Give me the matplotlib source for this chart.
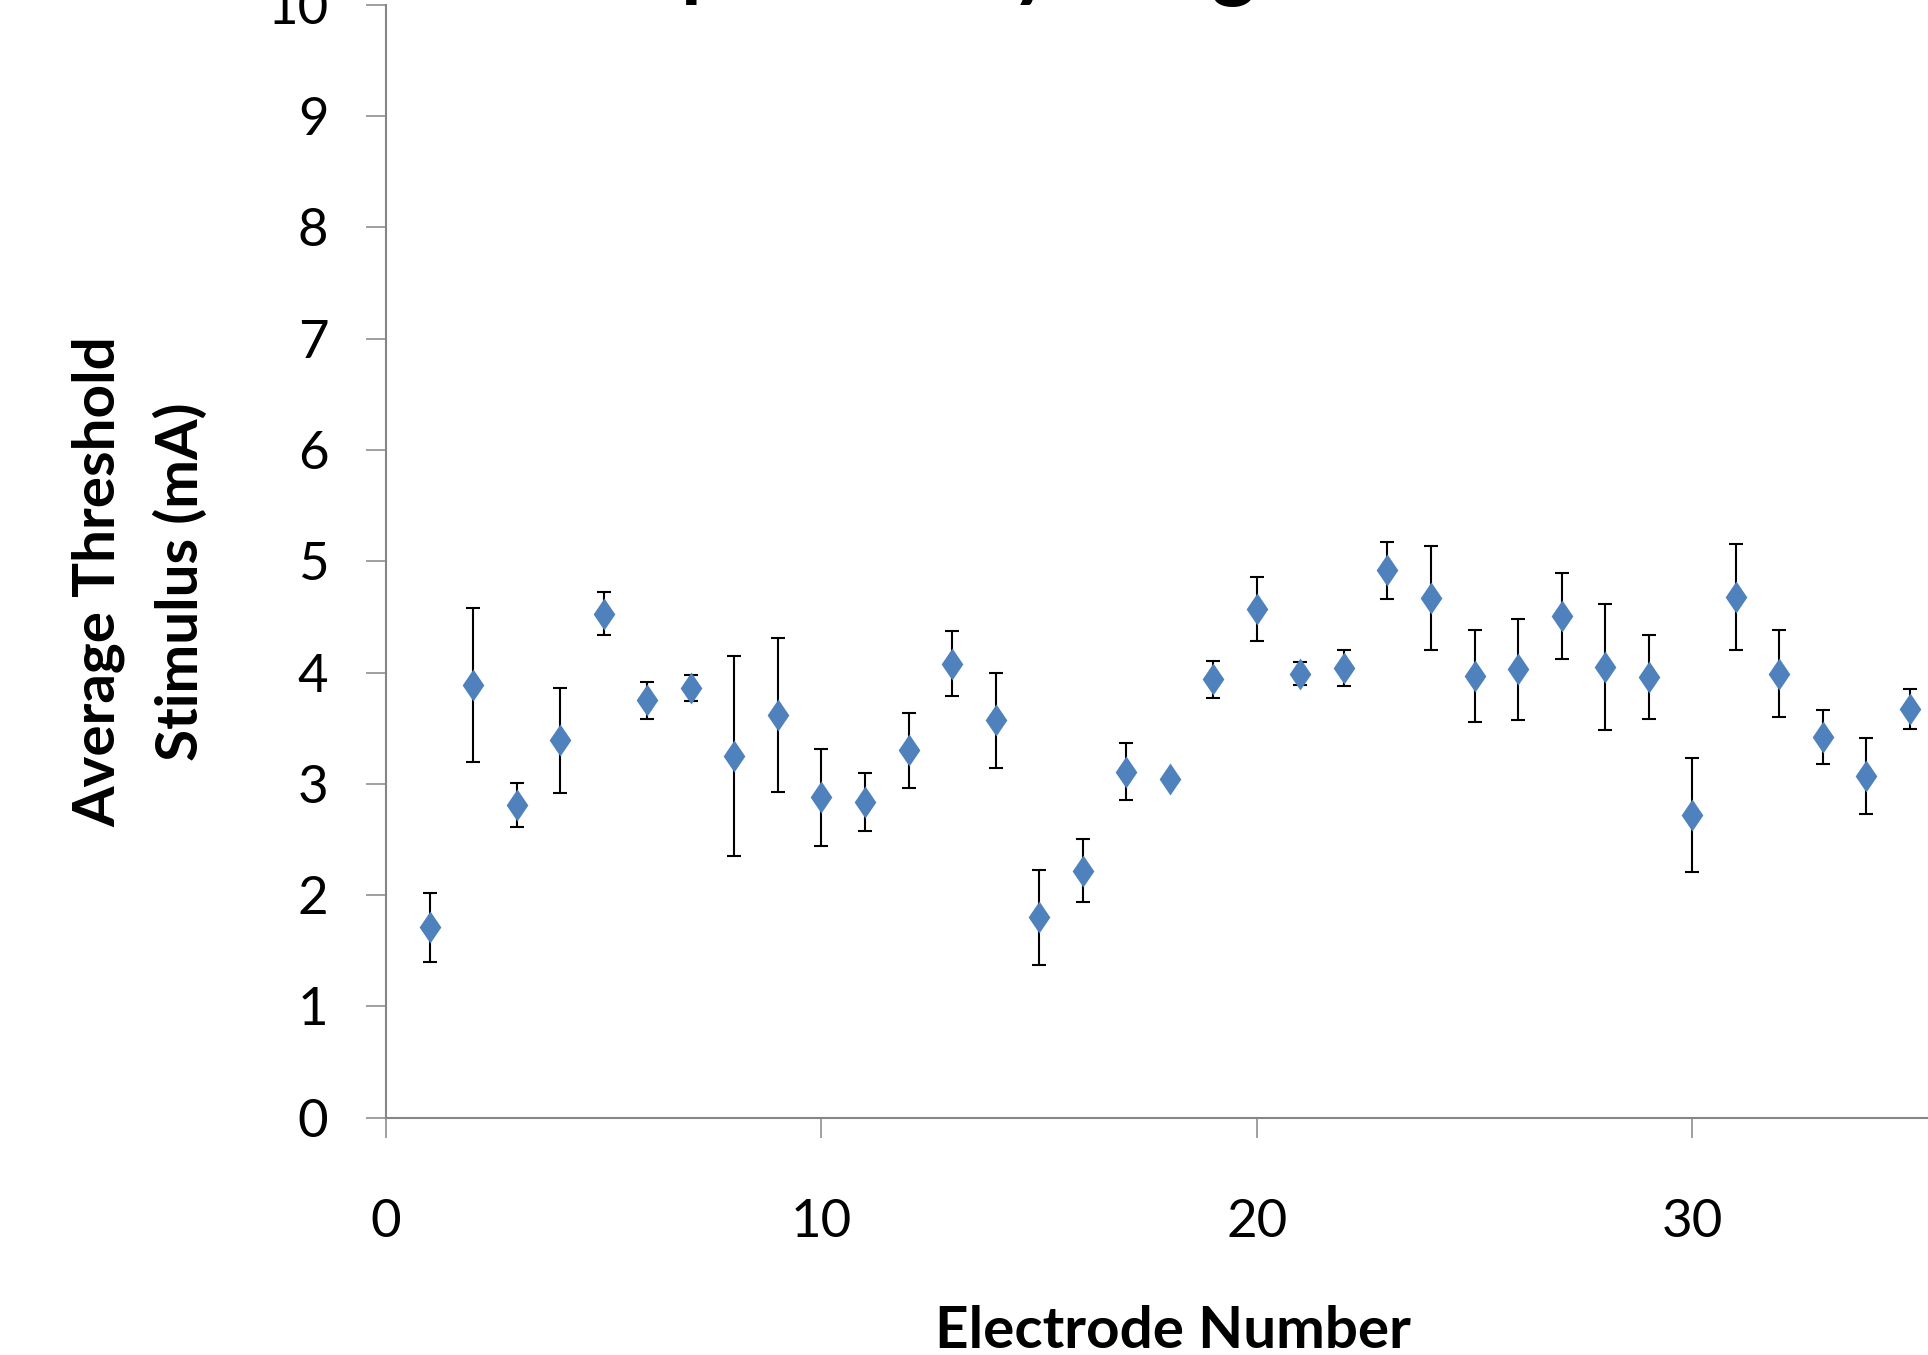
import matplotlib
matplotlib.use('Agg')
import matplotlib.pyplot as plt

plt.rcParams['font.family'] = ['Lato', 'DejaVu Sans']

# data
electrode = list(range(1, 36))
threshold = [1.71, 3.89, 2.81, 3.39, 4.53, 3.75, 3.86, 3.25, 3.62, 2.88,
             2.84, 3.30, 4.08, 3.57, 1.80, 2.22, 3.11, 3.04, 3.94, 4.57,
             3.99, 4.04, 4.92, 4.67, 3.97, 4.03, 4.51, 4.05, 3.96, 2.72,
             4.68, 3.99, 3.42, 3.07, 3.67]
std_err = [0.31, 0.69, 0.20, 0.47, 0.19, 0.165, 0.12, 0.90, 0.69, 0.435,
           0.26, 0.34, 0.295, 0.425, 0.43, 0.28, 0.255, 0.02, 0.165, 0.285,
           0.105, 0.16, 0.255, 0.465, 0.415, 0.455, 0.385, 0.57, 0.38, 0.51,
           0.475, 0.39, 0.24, 0.345, 0.18]
x_ticks = [0, 10, 20, 30, 40]
y_ticks = list(range(0, 11))

blue = '#4F81BD'
grey = '#868686'
diamond = [(0, 1), (0.68, 0), (0, -1), (-0.68, 0), (0, 1)]

fig = plt.figure(figsize=(19.28, 13.55), dpi=100)
# the chart is cropped on the right and top, so the axes run past the figure
ax = fig.add_axes([0.2002, 0.1751, 0.9034, 0.8214])

ax.errorbar(electrode, threshold, yerr=std_err, fmt='none', ecolor='black',
            elinewidth=1.5, capsize=5, capthick=1.5, zorder=2)
ax.plot(electrode, threshold, linestyle='none', marker=diamond, markersize=23,
        markerfacecolor=blue, markeredgecolor=blue, markeredgewidth=0, zorder=3)

ax.set_xlim(0, 40)
ax.set_ylim(0, 10)
ax.set_xticks(x_ticks)
ax.set_yticks(y_ticks)
for side in ['top', 'right']:
    ax.spines[side].set_visible(False)
for side in ['left', 'bottom']:
    ax.spines[side].set_color(grey)
    ax.spines[side].set_linewidth(1.5)
ax.tick_params(direction='out', length=14.4, width=1.1, color=grey, labelsize=38)
ax.tick_params(axis='x', pad=44)
ax.tick_params(axis='y', pad=27)

fig.text(0.6084, 0.0052, 'Electrode Number', fontsize=42, fontweight='bold',
         ha='center', va='baseline')
fig.text(0.0725, 0.5705, 'Average Threshold\nStimulus (mA)', fontsize=42,
         fontweight='bold', rotation=90, ha='center', va='center',
         multialignment='center', linespacing=1.65)

# title sits mostly above the crop; only descenders show
renderer = fig.canvas.get_renderer()
probe = fig.text(0, 0, 'plitude b', fontsize=60, fontweight='bold')
title_size = 60 * 330 / probe.get_window_extent(renderer).width
probe.remove()
probe = fig.text(0, 0, 'Threshold Stimulus Am', fontsize=title_size, fontweight='bold')
prefix_w = probe.get_window_extent(renderer).width
probe.remove()
em = title_size * 100 / 72
fig.text((691 - prefix_w - 0.12 * em) / 1928, 1 + (0.2 * em - 7) / 1355,
         'Threshold Stimulus Amplitude by Length', fontsize=title_size,
         fontweight='bold', ha='left', va='baseline')

fig.savefig('out.png', dpi=100)
